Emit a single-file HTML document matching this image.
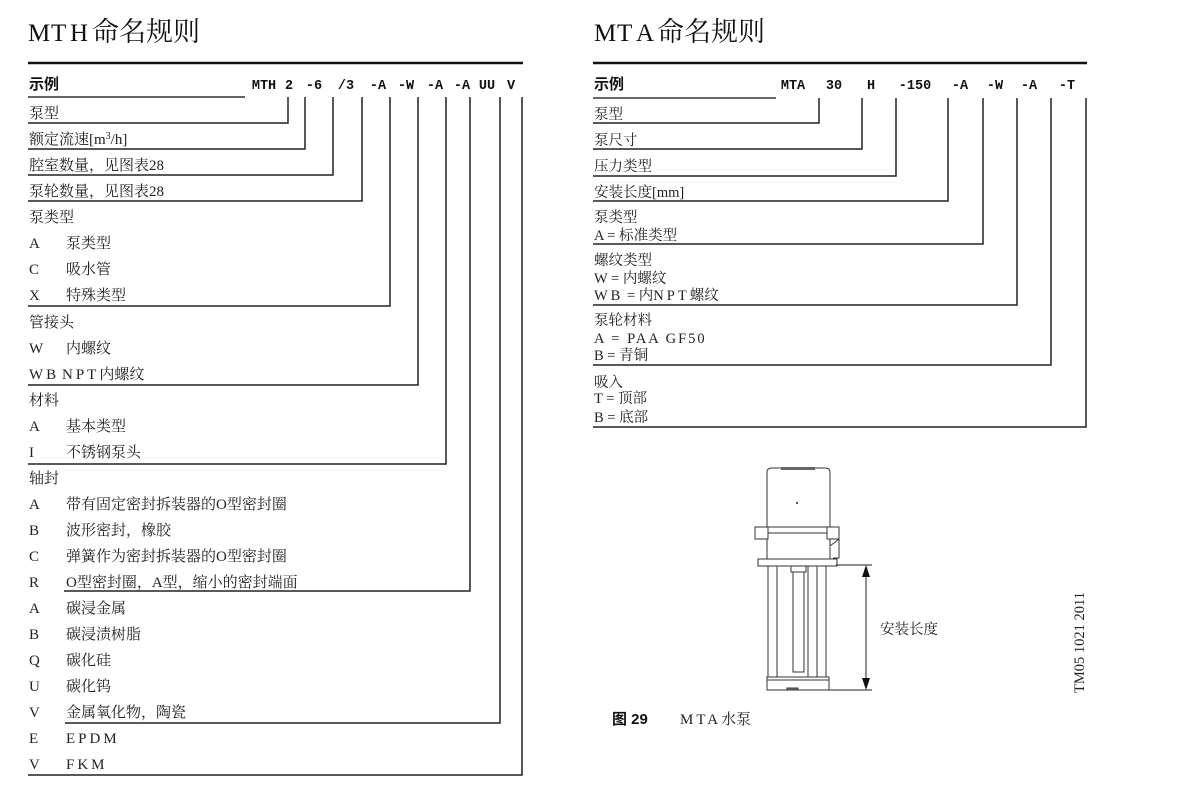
<!DOCTYPE html>
<html><head><meta charset="utf-8"><style>
html,body{margin:0;padding:0;background:#fff;}
svg{display:block}
.t{font-family:"Liberation Serif","Noto Serif CJK SC",serif;font-size:15px;fill:#222;}
.r{font-family:"Liberation Serif","Noto Serif CJK SC",serif;font-size:14.5px;fill:#222;}
.c{font-family:"Liberation Mono","Noto Sans CJK SC",monospace;font-size:13.5px;font-weight:bold;fill:#111;text-anchor:middle;}
.h{font-family:"Liberation Sans","Noto Sans CJK SC",sans-serif;font-size:15px;font-weight:bold;fill:#111;}
.ti{font-family:"Liberation Serif","Noto Serif CJK SC",serif;font-size:27px;fill:#111;}
.tl{font-family:"Liberation Serif",serif;font-size:25px;fill:#111;}
</style></head><body>
<svg width="1200" height="791" viewBox="0 0 1200 791" xmlns="http://www.w3.org/2000/svg">
<!-- LEFT -->
<text class="tl" x="28" y="41">M</text><text class="tl" x="51" y="41">T</text><text class="tl" x="70" y="41">H</text><text class="ti" x="92" y="41">命名规则</text>
<line x1="28" y1="63" x2="523" y2="63" stroke="#111" stroke-width="2.5"/>
<text class="h" x="29" y="89">示例</text>
<line x1="28" y1="97" x2="245" y2="97" stroke="#333" stroke-width="1.5"/>
<g class="c">
<text x="264" y="89">MTH</text><text x="289" y="89">2</text><text x="314" y="89">-6</text><text x="346" y="89">/3</text>
<text x="378" y="89">-A</text><text x="406" y="89">-W</text><text x="435" y="89">-A</text><text x="462" y="89">-A</text><text x="487" y="89">UU</text><text x="511" y="89">V</text>
</g>
<g fill="none" stroke="#222" stroke-width="1.5">
<polyline points="28,123 288,123 288,97"/>
<polyline points="28,149 305,149 305,97"/>
<polyline points="28,175 333,175 333,97"/>
<polyline points="28,201 362,201 362,97"/>
<polyline points="28,306 390,306 390,97"/>
<polyline points="28,385 418,385 418,97"/>
<polyline points="28,464 446,464 446,97"/>
<polyline points="64,591 470,591 470,97"/>
<polyline points="65,723 500,723 500,97"/>
<polyline points="28,775 522,775 522,97"/>
</g>
<g class="t">
<text x="29" y="118">泵型</text>
<text x="29" y="144">额定流速[m<tspan dy="-5" font-size="10">3</tspan><tspan dy="5">/h]</tspan></text>
<text x="29" y="170">腔室数量，见图表28</text>
<text x="29" y="196">泵轮数量，见图表28</text>
<text x="29" y="222">泵类型</text>
<text x="29" y="248">A</text><text x="66" y="248">泵类型</text>
<text x="29" y="274">C</text><text x="66" y="274">吸水管</text>
<text x="29" y="300">X</text><text x="66" y="300">特殊类型</text>
<text x="29" y="327">管接头</text>
<text x="29" y="353">W</text><text x="66" y="353">内螺纹</text>
<text x="29" y="379" letter-spacing="3">WB</text><text x="62" y="379"><tspan letter-spacing="3">NPT</tspan>内螺纹</text>
<text x="29" y="405">材料</text>
<text x="29" y="431">A</text><text x="66" y="431">基本类型</text>
<text x="29" y="457">I</text><text x="66" y="457">不锈钢泵头</text>
<text x="29" y="483">轴封</text>
<text x="29" y="509">A</text><text x="66" y="509">带有固定密封拆装器的O型密封圈</text>
<text x="29" y="535">B</text><text x="66" y="535">波形密封，橡胶</text>
<text x="29" y="561">C</text><text x="66" y="561">弹簧作为密封拆装器的O型密封圈</text>
<text x="29" y="587">R</text><text x="66" y="587">O型密封圈，A型，缩小的密封端面</text>
<text x="29" y="613">A</text><text x="66" y="613">碳浸金属</text>
<text x="29" y="639">B</text><text x="66" y="639">碳浸渍树脂</text>
<text x="29" y="665">Q</text><text x="66" y="665">碳化硅</text>
<text x="29" y="691">U</text><text x="66" y="691">碳化钨</text>
<text x="29" y="717">V</text><text x="66" y="717">金属氧化物，陶瓷</text>
<text x="29" y="743">E</text><text x="66" y="743" letter-spacing="3">EPDM</text>
<text x="29" y="769">V</text><text x="66" y="769" letter-spacing="3">FKM</text>
</g>
<!-- RIGHT -->
<text class="tl" x="594" y="41">M</text><text class="tl" x="617" y="41">T</text><text class="tl" x="636" y="41">A</text><text class="ti" x="657" y="41">命名规则</text>
<line x1="593" y1="63" x2="1087" y2="63" stroke="#111" stroke-width="2.5"/>
<text class="h" x="594" y="89">示例</text>
<line x1="593" y1="98" x2="776" y2="98" stroke="#333" stroke-width="1.5"/>
<g class="c">
<text x="793" y="89">MTA</text><text x="834" y="89">30</text><text x="871" y="89">H</text><text x="915" y="89">-150</text>
<text x="960" y="89">-A</text><text x="995" y="89">-W</text><text x="1029" y="89">-A</text><text x="1067" y="89">-T</text>
</g>
<g fill="none" stroke="#222" stroke-width="1.5">
<polyline points="593,123 819,123 819,98"/>
<polyline points="593,149 862,149 862,98"/>
<polyline points="593,176 896,176 896,98"/>
<polyline points="593,201 948,201 948,98"/>
<polyline points="593,244 983,244 983,98"/>
<polyline points="593,305 1017,305 1017,98"/>
<polyline points="593,365 1051,365 1051,98"/>
<polyline points="593,427 1086,427 1086,98"/>
</g>
<g class="r">
<text x="594" y="119">泵型</text>
<text x="594" y="145">泵尺寸</text>
<text x="594" y="171">压力类型</text>
<text x="594" y="197">安装长度[mm]</text>
<text x="594" y="222">泵类型</text>
<text x="594" y="240">A = 标准类型</text>
<text x="594" y="265">螺纹类型</text>
<text x="594" y="283">W  = 内螺纹</text>
<text x="594" y="300"><tspan letter-spacing="3">WB</tspan> = 内<tspan letter-spacing="3">NPT</tspan>螺纹</text>
<text x="594" y="325">泵轮材料</text>
<text x="594" y="343" letter-spacing="2">A = PAA GF50</text>
<text x="594" y="360">B = 青铜</text>
<text x="594" y="387">吸入</text>
<text x="594" y="403">T = 顶部</text>
<text x="594" y="422">B = 底部</text>
</g>
<!-- Pump drawing -->
<g fill="#fff" stroke="#333" stroke-width="1">
<path d="M767,527 L767,472 Q767,468 772,468 L825,468 Q830,468 830,472 L830,527 Z"/>
<rect x="781" y="467" width="34" height="3" fill="#666" stroke="none"/>
<rect x="767" y="527" width="63" height="33"/>
<line x1="767" y1="533" x2="830" y2="533"/>
<rect x="755" y="527" width="13" height="12"/>
<rect x="827" y="527" width="12" height="12"/>
<path d="M830,546 L839,539 L839,558 L833,558"/>
<rect x="758" y="559" width="79" height="7"/>
<line x1="768" y1="566" x2="768" y2="678"/>
<line x1="777" y1="566" x2="777" y2="678"/>
<line x1="808" y1="566" x2="808" y2="678"/>
<line x1="817" y1="566" x2="817" y2="678"/>
<line x1="826" y1="566" x2="826" y2="678"/>
<rect x="791" y="566" width="15" height="6"/>
<rect x="793" y="572" width="11" height="100"/>
<rect x="767" y="677" width="62" height="13"/>
<line x1="767" y1="680" x2="829" y2="680"/>
<rect x="787" y="688" width="11" height="2" fill="#777"/>
</g>
<circle cx="797" cy="503" r="1" fill="#222"/>
<g stroke="#222" stroke-width="1">
<line x1="836" y1="565" x2="872" y2="565"/>
<line x1="829" y1="690" x2="872" y2="690"/>
<line x1="866" y1="572" x2="866" y2="683"/>
</g>
<path d="M866,565 L862,577 L870,577 Z M866,690 L862,678 L870,678 Z" fill="#111"/>
<text class="r" x="880" y="634" font-size="15">安装长度</text>
<text class="r" x="1084" y="693" font-size="13" transform="rotate(-90 1084 693)">TM05 1021 2011</text>
<text class="h" x="612" y="724" font-size="16">图 29</text>
<text class="t" x="680" y="724"><tspan letter-spacing="3">MTA</tspan>水泵</text>
</svg>
</body></html>
